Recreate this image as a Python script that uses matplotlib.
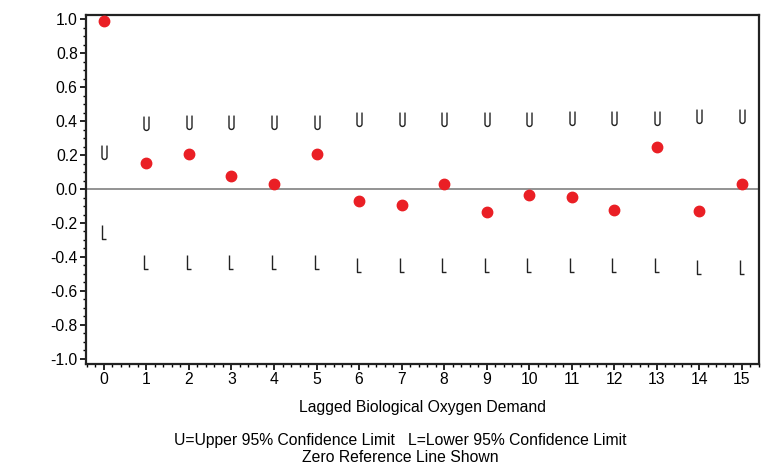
import numpy as np
import matplotlib.pyplot as plt
from matplotlib.path import Path
from matplotlib.ticker import MultipleLocator

# Autocorrelation values
lags = np.arange(16)
acf = [0.99, 0.153, 0.206, 0.076, 0.03, 0.205, -0.07, -0.094,
       0.03, -0.135, -0.035, -0.049, -0.124, 0.247, -0.131, 0.028]

# Confidence limit symbol positions (U / L)
upper = [0.219, 0.391, 0.397, 0.397, 0.397, 0.397, 0.41, 0.41,
         0.41, 0.41, 0.41, 0.416, 0.416, 0.416, 0.428, 0.428]
lower = [-0.251, -0.431, -0.431, -0.431, -0.431, -0.431, -0.445, -0.445,
         -0.445, -0.445, -0.445, -0.445, -0.445, -0.445, -0.457, -0.457]

y_ticks = [-1.0, -0.8, -0.6, -0.4, -0.2, 0.0, 0.2, 0.4, 0.6, 0.8, 1.0]
x_label = "Lagged Biological Oxygen Demand"
notes = ["U=Upper 95% Confidence Limit   L=Lower 95% Confidence Limit",
         "Zero Reference Line Shown"]


def u_marker():
    t = np.linspace(np.pi, 2 * np.pi, 20)
    r = 0.18
    verts = [(-r, 0.5), (-r, -0.5 + r)]
    verts += [(r * np.cos(a), -0.5 + r + r * np.sin(a)) for a in t]
    verts += [(r, 0.5)]
    codes = [Path.MOVETO] + [Path.LINETO] * (len(verts) - 1)
    return Path(verts, codes)


def l_marker():
    verts = [(-0.16, 0.5), (-0.16, -0.5), (0.16, -0.5)]
    return Path(verts, [Path.MOVETO, Path.LINETO, Path.LINETO])


plt.rcParams['font.family'] = ['Liberation Sans', 'DejaVu Sans']

fig = plt.figure(figsize=(7.69, 4.70), dpi=100)
ax = fig.add_axes([0.1118, 0.2255, 0.8752, 0.7425])

ax.axhline(0, color='#808080', lw=1.2, zorder=1)
ax.plot(lags, upper, linestyle='none', marker=u_marker(), markersize=10,
        markerfacecolor='none', markeredgecolor='#222222', markeredgewidth=1.0)
ax.plot(lags, lower, linestyle='none', marker=l_marker(), markersize=10,
        markerfacecolor='none', markeredgecolor='#222222', markeredgewidth=1.0)
ax.plot(lags, acf, linestyle='none', marker='o', markersize=7.5,
        color='#ea1f25', zorder=3)

ax.set_xlim(-0.42, 15.4)
ax.set_ylim(-1.03, 1.024)
ax.set_xticks(lags)
ax.xaxis.set_minor_locator(MultipleLocator(0.2))
ax.set_yticks(y_ticks)
ax.set_yticklabels([f"{v:.1f}" for v in y_ticks])
ax.yaxis.set_minor_locator(MultipleLocator(0.05))

ax.tick_params(which='major', direction='out', length=4, width=1.2,
               labelsize=11.3, pad=2)
ax.tick_params(which='minor', direction='out', length=2.5, width=1.0)
for side in ['left', 'bottom', 'top', 'right']:
    ax.spines[side].set_linewidth(1.6)
    ax.spines[side].set_color('#222222')

ax.set_xlabel(x_label, fontsize=11.3, labelpad=9)

fig.text(0.52, 0.063, notes[0], ha='center', va='center', fontsize=11.3)
fig.text(0.52, 0.027, notes[1], ha='center', va='center', fontsize=11.3)

fig.savefig('out.png', dpi=100)
